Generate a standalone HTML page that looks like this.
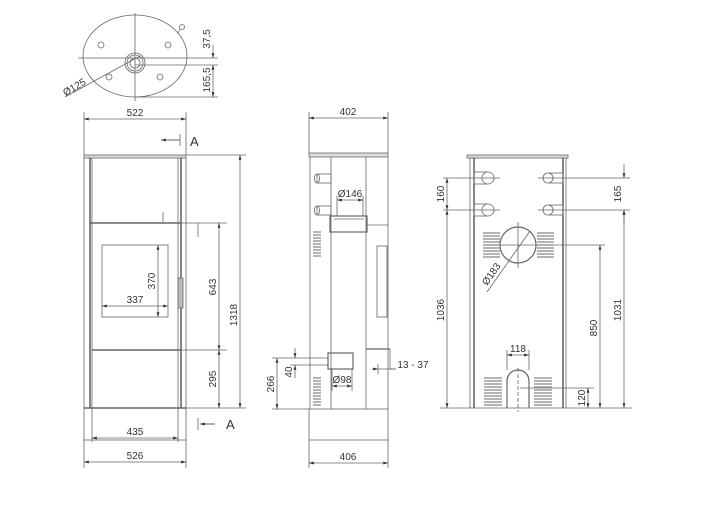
<!DOCTYPE html>
<html><head><meta charset="utf-8"><style>
html,body{margin:0;padding:0;background:#fff}
svg{display:block}
text{font-family:"Liberation Sans",sans-serif;font-size:10px;fill:#333}
</style></head><body>
<svg width="702" height="516" viewBox="0 0 702 516" xmlns="http://www.w3.org/2000/svg">
<defs>
<marker id="a" viewBox="0 0 10 10" refX="10" refY="5" markerWidth="6" markerHeight="6" orient="auto-start-reverse"><path d="M0,2 L10,5 L0,8z" fill="#333"/></marker>
</defs>
<g fill="none" stroke="#666" stroke-width="0.8">
<!-- TOP VIEW -->
<ellipse cx="135" cy="56" rx="52" ry="41"/>
<line x1="135" y1="13" x2="135" y2="101"/>
<line x1="78" y1="58" x2="218" y2="58"/>
<line x1="135" y1="65" x2="218" y2="65"/>
<line x1="135" y1="97" x2="218" y2="97"/>
<circle cx="135" cy="63" r="10"/><circle cx="135" cy="63" r="8"/><circle cx="135" cy="63" r="5"/>
<circle cx="101" cy="45" r="3"/><circle cx="168" cy="45" r="3"/><circle cx="109" cy="77" r="3"/><circle cx="160" cy="77" r="3"/>
<circle cx="182" cy="27" r="2.5"/><line x1="178" y1="33" x2="180" y2="29"/>
<line x1="65" y1="97" x2="140" y2="56"/>
<line x1="213" y1="45" x2="213" y2="58" marker-end="url(#a)"/>
<line x1="213" y1="65" x2="213" y2="97" marker-start="url(#a)" marker-end="url(#a)"/>

<!-- FRONT VIEW -->
<rect x="84" y="155" width="102" height="3" fill="#ddd"/>
<line x1="84" y1="158" x2="84" y2="408"/><line x1="186" y1="158" x2="186" y2="408"/>
<line x1="90" y1="158" x2="90" y2="408" stroke="#333" stroke-width="1.2"/><line x1="92" y1="158" x2="92" y2="408"/>
<line x1="178" y1="158" x2="178" y2="408"/><line x1="181" y1="158" x2="181" y2="408" stroke="#333" stroke-width="1.2"/>
<line x1="90" y1="223" x2="181" y2="223" stroke-width="1.4"/>
<line x1="163" y1="212" x2="163" y2="223"/>
<rect x="102" y="245" width="66" height="72"/>
<line x1="92" y1="350" x2="181" y2="350" stroke-width="1.4"/>
<rect x="178" y="278" width="5" height="30" fill="#bbb"/>
<rect x="84" y="408" width="102" height="32"/>
<line x1="84" y1="408" x2="186" y2="408" stroke-width="1.4"/>
<line x1="84" y1="112" x2="84" y2="155"/><line x1="186" y1="112" x2="186" y2="155"/>
<line x1="84" y1="119" x2="186" y2="119" marker-start="url(#a)" marker-end="url(#a)"/>
<line x1="84" y1="440" x2="84" y2="468"/><line x1="186" y1="440" x2="186" y2="468"/>
<line x1="84" y1="462" x2="186" y2="462" marker-start="url(#a)" marker-end="url(#a)"/>
<line x1="92" y1="408" x2="92" y2="442"/><line x1="178" y1="408" x2="178" y2="442"/>
<line x1="92" y1="438" x2="178" y2="438" marker-start="url(#a)" marker-end="url(#a)"/>
<line x1="102" y1="306" x2="168" y2="306" marker-start="url(#a)" marker-end="url(#a)"/>
<line x1="158" y1="245" x2="158" y2="317" marker-start="url(#a)" marker-end="url(#a)"/>
<line x1="181" y1="223" x2="227" y2="223"/><line x1="198" y1="223" x2="198" y2="237"/>
<line x1="181" y1="350" x2="227" y2="350"/>
<line x1="186" y1="155" x2="246" y2="155"/><line x1="186" y1="408" x2="246" y2="408"/>
<line x1="219" y1="223" x2="219" y2="350" marker-start="url(#a)" marker-end="url(#a)"/>
<line x1="219" y1="350" x2="219" y2="408" marker-start="url(#a)" marker-end="url(#a)"/>
<line x1="240" y1="155" x2="240" y2="408" marker-start="url(#a)" marker-end="url(#a)"/>
<line x1="180" y1="140" x2="161" y2="140" stroke="#333" marker-end="url(#a)"/><line x1="180" y1="134" x2="180" y2="146"/>
<line x1="215" y1="424" x2="200" y2="424" stroke="#333" marker-end="url(#a)"/><line x1="198" y1="418" x2="198" y2="430"/>

<!-- SIDE VIEW -->
<rect x="309" y="153" width="79" height="4" fill="#ddd"/>
<line x1="309" y1="112" x2="309" y2="153"/><line x1="388" y1="112" x2="388" y2="153"/>
<line x1="309" y1="118" x2="388" y2="118" marker-start="url(#a)" marker-end="url(#a)"/>
<line x1="310" y1="157" x2="310" y2="409"/><line x1="388" y1="157" x2="388" y2="409"/>
<line x1="331" y1="157" x2="331" y2="409"/><line x1="366" y1="157" x2="366" y2="409"/>
<rect x="317" y="174" width="14" height="9"/><ellipse cx="317" cy="178.5" rx="2.5" ry="4.5"/>
<rect x="317" y="206" width="14" height="9"/><ellipse cx="317" cy="210.5" rx="2.5" ry="4.5"/>
<rect x="330" y="216" width="37" height="16" stroke-width="1.2"/><line x1="334" y1="219" x2="364" y2="219"/>
<line x1="337" y1="196" x2="337" y2="216"/><line x1="363" y1="196" x2="363" y2="216"/>
<line x1="337" y1="200" x2="363" y2="200" marker-start="url(#a)" marker-end="url(#a)"/>
<line x1="366" y1="225" x2="388" y2="225"/>
<rect x="377" y="246" width="10" height="71"/>
<line x1="366" y1="349" x2="390" y2="349" stroke-width="1.2"/><line x1="390" y1="349" x2="390" y2="369"/>
<rect x="328" y="353" width="25" height="16" stroke-width="1.2"/>
<rect x="309" y="409" width="79" height="31"/>
<line x1="309" y1="440" x2="309" y2="468"/><line x1="388" y1="440" x2="388" y2="468"/>
<line x1="309" y1="463" x2="388" y2="463" marker-start="url(#a)" marker-end="url(#a)"/>
<line x1="290" y1="358" x2="328" y2="358"/><line x1="290" y1="365" x2="328" y2="365"/>
<line x1="295" y1="348" x2="295" y2="358" marker-end="url(#a)"/><line x1="295" y1="365" x2="295" y2="378"  marker-start="url(#a)"/>
<line x1="272" y1="358" x2="290" y2="358"/><line x1="272" y1="409" x2="310" y2="409"/>
<line x1="277" y1="358" x2="277" y2="409" marker-start="url(#a)" marker-end="url(#a)"/>
<line x1="332" y1="369" x2="332" y2="391"/><line x1="352" y1="369" x2="352" y2="391"/>
<line x1="332" y1="386" x2="352" y2="386" marker-start="url(#a)" marker-end="url(#a)"/>
<line x1="378" y1="369" x2="395" y2="369"/><line x1="378" y1="364" x2="378" y2="374"/>
<line x1="372" y1="369" x2="378" y2="369" marker-end="url(#a)"/>
<line x1="389" y1="369" x2="396" y2="369"/>

<!-- BACK VIEW -->
<rect x="467" y="155" width="101" height="3" fill="#ddd"/>
<line x1="470" y1="158" x2="470" y2="408"/><line x1="474" y1="158" x2="474" y2="408" stroke="#333" stroke-width="1.2"/>
<line x1="563" y1="158" x2="563" y2="408" stroke="#333" stroke-width="1.2"/><line x1="566" y1="158" x2="566" y2="408"/>
<line x1="440" y1="408" x2="632" y2="408"/>
<rect x="474" y="172" width="14" height="12"/><circle cx="488" cy="178" r="6" fill="#fff"/>
<rect x="474" y="204" width="14" height="12"/><circle cx="488" cy="210" r="6" fill="#fff"/>
<rect x="548" y="173" width="15" height="10"/><circle cx="548" cy="178" r="5" fill="#fff"/>
<rect x="548" y="205" width="15" height="10"/><circle cx="548" cy="210" r="5" fill="#fff"/>
<line x1="443" y1="178" x2="500" y2="178"/><line x1="443" y1="210" x2="500" y2="210"/>
<line x1="538" y1="178" x2="630" y2="178"/><line x1="538" y1="210" x2="630" y2="210"/>
<circle cx="518" cy="245" r="18" stroke-width="1.2"/>
<line x1="518" y1="222" x2="518" y2="268"/><line x1="495" y1="245" x2="605" y2="245"/>
<line x1="487" y1="292" x2="530" y2="231"/>
<path d="M507,408 V381 A11,11 0 0 1 529,381 V408" stroke-width="1.2"/>
<line x1="518" y1="368" x2="518" y2="412" stroke-dasharray="4,2"/>
<line x1="507" y1="350" x2="507" y2="370"/><line x1="529" y1="350" x2="529" y2="370"/>
<line x1="507" y1="355" x2="529" y2="355" marker-start="url(#a)" marker-end="url(#a)"/>
<line x1="520" y1="388" x2="594" y2="388"/>
<line x1="447" y1="178" x2="447" y2="210" marker-start="url(#a)" marker-end="url(#a)"/>
<line x1="447" y1="210" x2="447" y2="408" marker-start="url(#a)" marker-end="url(#a)"/>
<line x1="624" y1="164" x2="624" y2="178" marker-end="url(#a)"/><line x1="624" y1="210" x2="624" y2="224" marker-start="url(#a)"/>
<line x1="624" y1="210" x2="624" y2="408" marker-start="url(#a)" marker-end="url(#a)"/>
<line x1="600" y1="245" x2="600" y2="408" marker-start="url(#a)" marker-end="url(#a)"/>
<line x1="588" y1="388" x2="588" y2="408" marker-start="url(#a)" marker-end="url(#a)"/>
</g>
<!-- vents -->
<g stroke="#888" stroke-width="1.2">
<path d="M313,232h8M313,235h8M313,238h8M313,241h8M313,244h8M313,247h8M313,250h8M313,253h8M313,256h8"/>
<path d="M313,378h8M313,381h8M313,384h8M313,387h8M313,390h8M313,393h8M313,396h8M313,399h8M313,402h8M313,405h8"/>
<path d="M483,233h17M483,236h17M483,239h17M483,242h17M483,245h17M483,248h17M483,251h17M483,254h17M483,257h17"/>
<path d="M537,233h17M537,236h17M537,239h17M537,242h17M537,245h17M537,248h17M537,251h17M537,254h17M537,257h17"/>
<path d="M484,378h18M484,381h18M484,384h18M484,387h18M484,390h18M484,393h18M484,396h18M484,399h18M484,402h18M484,405h18"/>
<path d="M534,378h18M534,381h18M534,384h18M534,387h18M534,390h18M534,393h18M534,396h18M534,399h18M534,402h18M534,405h18"/>
</g>
<!-- text -->
<text x="135" y="116" text-anchor="middle">522</text>
<text x="190" y="146" style="font-size:13px">A</text>
<text x="226" y="429" style="font-size:13px">A</text>
<text x="135" y="303" text-anchor="middle">337</text>
<text x="135" y="435" text-anchor="middle">435</text>
<text x="135" y="459" text-anchor="middle">526</text>
<text transform="translate(155,281) rotate(-90)" text-anchor="middle">370</text>
<text transform="translate(216,287) rotate(-90)" text-anchor="middle">643</text>
<text transform="translate(216,379) rotate(-90)" text-anchor="middle">295</text>
<text transform="translate(237,315) rotate(-90)" text-anchor="middle">1318</text>
<text transform="translate(210,39) rotate(-90)" text-anchor="middle">37,5</text>
<text transform="translate(210,80) rotate(-90)" text-anchor="middle">165,5</text>
<text transform="translate(76,90) rotate(-30)" text-anchor="middle">Ø125</text>
<text x="348" y="115" text-anchor="middle">402</text>
<text x="350" y="197" text-anchor="middle">Ø146</text>
<text x="342" y="383" text-anchor="middle">Ø98</text>
<text x="413" y="368" text-anchor="middle">13 - 37</text>
<text x="348" y="460" text-anchor="middle">406</text>
<text transform="translate(292,372) rotate(-90)" text-anchor="middle">40</text>
<text transform="translate(274,384) rotate(-90)" text-anchor="middle">266</text>
<text transform="translate(444,194) rotate(-90)" text-anchor="middle">160</text>
<text transform="translate(444,310) rotate(-90)" text-anchor="middle">1036</text>
<text transform="translate(621,194) rotate(-90)" text-anchor="middle">165</text>
<text transform="translate(621,310) rotate(-90)" text-anchor="middle">1031</text>
<text transform="translate(597,328) rotate(-90)" text-anchor="middle">850</text>
<text transform="translate(585,398) rotate(-90)" text-anchor="middle">120</text>
<text x="518" y="352" text-anchor="middle">118</text>
<text transform="translate(494,276) rotate(-55)" text-anchor="middle">Ø183</text>
</svg>
</body></html>
